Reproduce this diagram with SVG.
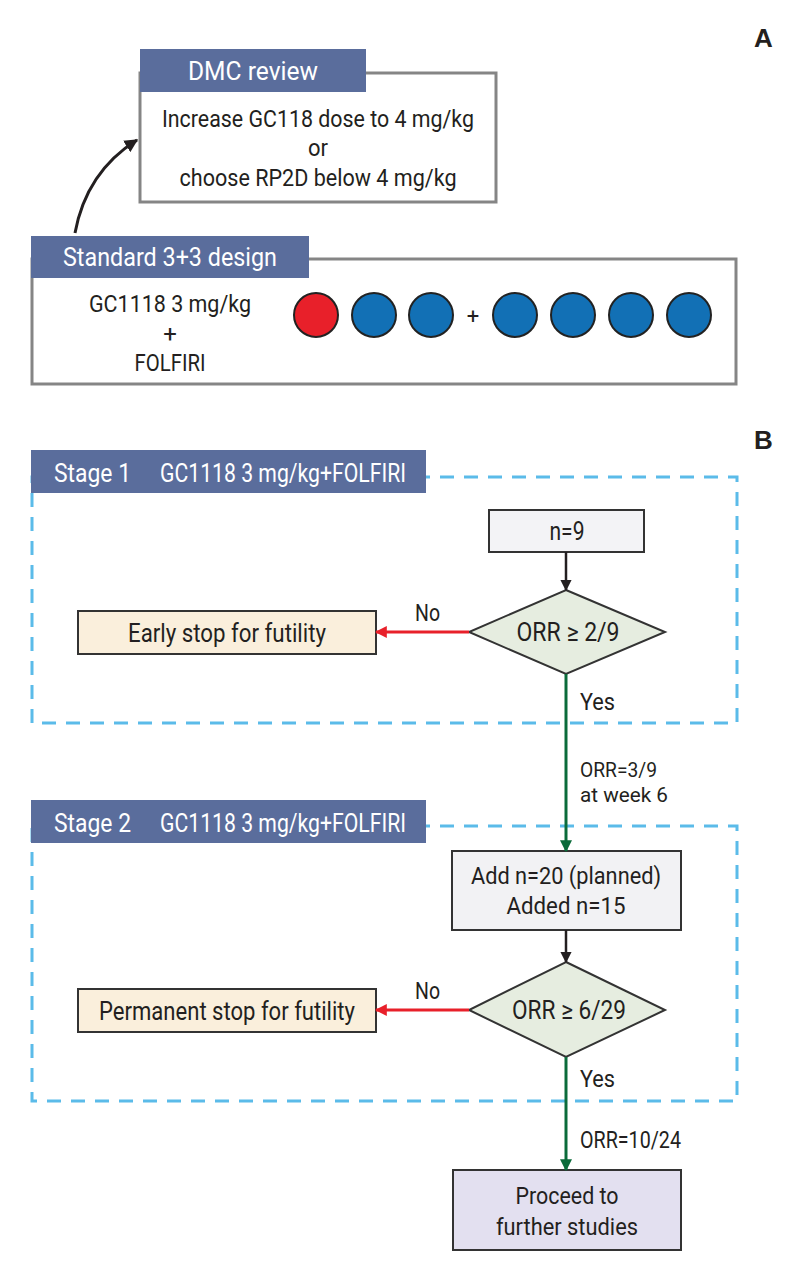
<svg xmlns="http://www.w3.org/2000/svg" width="810" height="1277" viewBox="0 0 810 1277">
<style>
.t{font-family:"Roboto","Liberation Sans",sans-serif;font-size:26px;fill:#231f20;text-anchor:middle}
.t2{font-family:"Roboto","Liberation Sans",sans-serif;font-size:24px;fill:#231f20;text-anchor:middle}
.h{font-family:"Roboto","Liberation Sans",sans-serif;font-size:25px;fill:#ffffff}
.lbl{font-family:"Roboto","Liberation Sans",sans-serif;font-size:24px;fill:#231f20}
.lb2{font-family:"Roboto","Liberation Sans",sans-serif;font-size:19.5px;fill:#231f20}
.big{font-family:"Liberation Sans","Arial",sans-serif;font-size:26px;font-weight:bold;fill:#231f20}
.hdr{fill:#5a6d9c}
.gbox{fill:#ffffff;stroke:#858585;stroke-width:3}
.dash{fill:none;stroke:#5bbbe9;stroke-width:3;stroke-dasharray:14 10}
.node{stroke:#333333;stroke-width:2}
.blue{fill:#1270b5;stroke:#222;stroke-width:2}
.red{fill:#e8202a;stroke:#222;stroke-width:2}
</style>
<defs>
<marker id="ab" viewBox="0 0 10 10" refX="9" refY="5" markerWidth="4.5" markerHeight="4.5" orient="auto" markerUnits="strokeWidth"><path d="M0 0 L10 5 L0 10 z" fill="#231f20"/></marker>
<marker id="ar" viewBox="0 0 10 10" refX="9" refY="5" markerWidth="4" markerHeight="4" orient="auto" markerUnits="strokeWidth"><path d="M0 0 L10 5 L0 10 z" fill="#e8202a"/></marker>
<marker id="ag" viewBox="0 0 10 10" refX="9" refY="5" markerWidth="4" markerHeight="4" orient="auto" markerUnits="strokeWidth"><path d="M0 0 L10 5 L0 10 z" fill="#0b6b3a"/></marker>
</defs>
<rect width="810" height="1277" fill="#ffffff"/>

<text class="big" x="754" y="47">A</text>
<text class="big" x="754" y="449">B</text>

<g id="dmc">
<rect class="gbox" x="140" y="73" width="356" height="129"/>
<rect class="hdr" x="140" y="49" width="226" height="43"/>
<text class="h" x="253" y="80" text-anchor="middle" textLength="130" lengthAdjust="spacingAndGlyphs">DMC review</text>
<text class="t2" x="318" y="127" textLength="312" lengthAdjust="spacingAndGlyphs">Increase GC118 dose to 4 mg/kg</text>
<text class="t2" x="318" y="156" textLength="20" lengthAdjust="spacingAndGlyphs">or</text>
<text class="t2" x="318" y="186" textLength="277" lengthAdjust="spacingAndGlyphs">choose RP2D below 4 mg/kg</text>
</g>

<g id="design">
<rect class="gbox" x="32" y="259" width="704" height="125"/>
<rect class="hdr" x="31" y="236" width="278" height="42"/>
<text class="h" x="170" y="266" text-anchor="middle" textLength="214" lengthAdjust="spacingAndGlyphs">Standard 3+3 design</text>
<text class="t2" x="170" y="312" textLength="162" lengthAdjust="spacingAndGlyphs">GC1118 3 mg/kg</text>
<text class="t2" x="170" y="342">+</text>
<text class="t2" x="170" y="371" textLength="71" lengthAdjust="spacingAndGlyphs">FOLFIRI</text>
<circle class="red" cx="316" cy="315" r="22"/>
<circle class="blue" cx="374" cy="315" r="22"/>
<circle class="blue" cx="431" cy="315" r="22"/>
<text class="t" x="473" y="324" style="font-size:22px">+</text>
<circle class="blue" cx="515" cy="315" r="22"/>
<circle class="blue" cx="573" cy="315" r="22"/>
<circle class="blue" cx="631" cy="315" r="22"/>
<circle class="blue" cx="689" cy="315" r="22"/>
</g>

<g id="stage1">
<rect class="dash" x="32" y="477" width="705" height="246"/>
<rect class="hdr" x="31" y="450" width="395" height="43"/>
<text class="h" x="54" y="482" textLength="77" lengthAdjust="spacingAndGlyphs">Stage 1</text>
<text class="h" x="160" y="482" textLength="246" lengthAdjust="spacingAndGlyphs">GC1118 3 mg/kg+FOLFIRI</text>
</g>

<g id="stage2">
<rect class="dash" x="32" y="826" width="705" height="275"/>
<rect class="hdr" x="31" y="800" width="395" height="43"/>
<text class="h" x="54" y="832" textLength="77" lengthAdjust="spacingAndGlyphs">Stage 2</text>
<text class="h" x="160" y="832" textLength="246" lengthAdjust="spacingAndGlyphs">GC1118 3 mg/kg+FOLFIRI</text>
</g>

<g id="n9">
<rect class="node" x="489" y="510" width="155" height="42" fill="#f3f3f6"/>
<text class="t" x="567" y="540" textLength="35" lengthAdjust="spacingAndGlyphs">n=9</text>
</g>

<g id="d1">
<polygon class="node" points="566,590 665,632 566,674 469,632" fill="#e6ede0"/>
<text class="t" x="568" y="641" textLength="103" lengthAdjust="spacingAndGlyphs">ORR ≥ 2/9</text>
</g>

<g id="early">
<rect class="node" x="78" y="611" width="298" height="43" fill="#faefdc"/>
<text class="t" x="227" y="642" textLength="198" lengthAdjust="spacingAndGlyphs">Early stop for futility</text>
</g>

<g id="add">
<rect class="node" x="452" y="851" width="229" height="79" fill="#f2f2f4"/>
<text class="t2" x="566" y="884" textLength="190" lengthAdjust="spacingAndGlyphs">Add n=20 (planned)</text>
<text class="t2" x="566" y="914" textLength="119" lengthAdjust="spacingAndGlyphs">Added n=15</text>
</g>

<g id="d2">
<polygon class="node" points="566,962 665,1010 566,1057 469,1010" fill="#e6ede0"/>
<text class="t" x="569" y="1019" textLength="114" lengthAdjust="spacingAndGlyphs">ORR ≥ 6/29</text>
</g>

<g id="perm">
<rect class="node" x="78" y="989" width="298" height="43" fill="#faefdc"/>
<text class="t" x="227" y="1020" textLength="256" lengthAdjust="spacingAndGlyphs">Permanent stop for futility</text>
</g>

<g id="proceed">
<rect class="node" x="453" y="1170" width="228" height="80" fill="#e3e0f0"/>
<text class="t2" x="567" y="1204" textLength="103" lengthAdjust="spacingAndGlyphs">Proceed to</text>
<text class="t2" x="567" y="1235" textLength="142" lengthAdjust="spacingAndGlyphs">further studies</text>
</g>

<g id="connectors">
<path d="M75 233 C 82 195, 102 162, 137 140" fill="none" stroke="#231f20" stroke-width="3" marker-end="url(#ab)"/>
<line x1="566" y1="552" x2="566" y2="590" stroke="#231f20" stroke-width="2.5" marker-end="url(#ab)"/>
<line x1="469" y1="632" x2="376" y2="632" stroke="#e8202a" stroke-width="3" marker-end="url(#ar)"/>
<line x1="566" y1="674" x2="566" y2="851" stroke="#0b6b3a" stroke-width="3" marker-end="url(#ag)"/>
<line x1="566" y1="930" x2="566" y2="962" stroke="#231f20" stroke-width="2.5" marker-end="url(#ab)"/>
<line x1="469" y1="1010" x2="376" y2="1010" stroke="#e8202a" stroke-width="3" marker-end="url(#ar)"/>
<line x1="566" y1="1057" x2="566" y2="1170" stroke="#0b6b3a" stroke-width="3" marker-end="url(#ag)"/>
<text class="lbl" x="415" y="621" textLength="25" lengthAdjust="spacingAndGlyphs">No</text>
<text class="lbl" x="415" y="999" textLength="25" lengthAdjust="spacingAndGlyphs">No</text>
<text class="lbl" x="580" y="710" textLength="35" lengthAdjust="spacingAndGlyphs">Yes</text>
<text class="lbl" x="580" y="1087" textLength="35" lengthAdjust="spacingAndGlyphs">Yes</text>
<text class="lb2" x="580" y="777" textLength="77" lengthAdjust="spacingAndGlyphs">ORR=3/9</text>
<text class="lb2" x="580" y="802" textLength="88" lengthAdjust="spacingAndGlyphs">at week 6</text>
<text class="lbl" x="580" y="1148" textLength="101" lengthAdjust="spacingAndGlyphs">ORR=10/24</text>
</g>
</svg>
